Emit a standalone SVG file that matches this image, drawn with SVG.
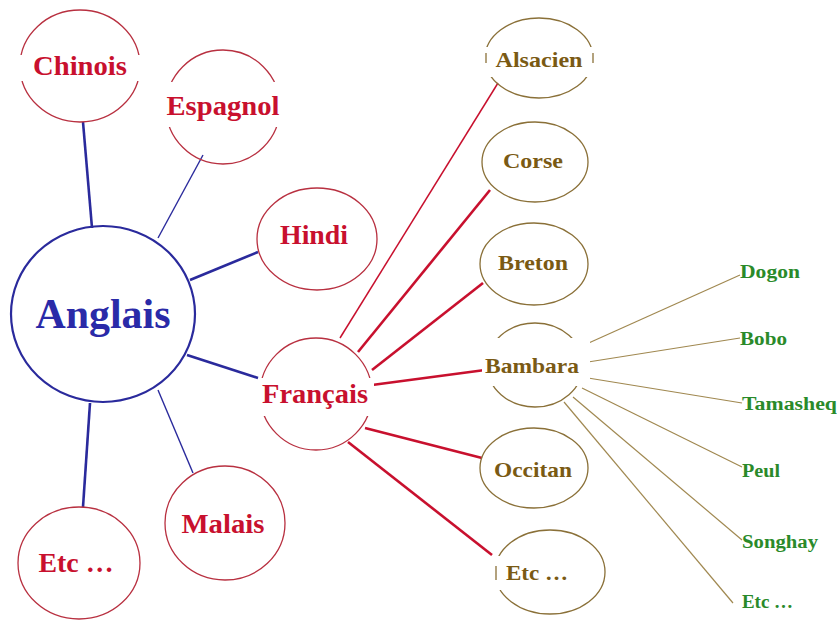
<svg xmlns="http://www.w3.org/2000/svg" width="837" height="621" viewBox="0 0 837 621">
<style>
  .bg{fill:#ffffff}
  .mask{fill:#ffffff;stroke:none}
  .rn{fill:none;stroke:#b83040;stroke-width:1.3}
  .bn{fill:none;stroke:#2a2a9c;stroke-width:2.2}
  .on{fill:none;stroke:#8a7038;stroke-width:1.3}
  .rt{font-family:"Liberation Serif","Times New Roman",serif;font-weight:bold;font-size:28px;fill:#c8102e;text-anchor:middle}
  .bt{font-family:"Liberation Serif","Times New Roman",serif;font-weight:bold;font-size:42px;fill:#2a2aa8;text-anchor:middle}
  .ot{font-family:"Liberation Serif","Times New Roman",serif;font-weight:bold;font-size:22px;fill:#7a5a14;text-anchor:middle}
  .gt{font-family:"Liberation Serif","Times New Roman",serif;font-weight:bold;font-size:18px;fill:#2a8a2a}
  .cb{stroke:#2a2a9c;stroke-width:2.6;fill:none}
  .cbt{stroke:#2a2a9c;stroke-width:1.4;fill:none}
  .cr{stroke:#c8102e;stroke-width:2.6;fill:none}
  .crt{stroke:#c8102e;stroke-width:1.5;fill:none}
  .co{stroke:#a08850;stroke-width:1.2;fill:none}
</style>
<rect class="bg" x="0" y="0" width="837" height="621"/>

<g id="connectors">
  <line class="cb" x1="83" y1="122" x2="92" y2="228"/>
  <line class="cbt" x1="203" y1="155" x2="158" y2="238"/>
  <line class="cb" x1="190" y1="280" x2="258" y2="252"/>
  <line class="cb" x1="187" y1="355" x2="258" y2="378"/>
  <line class="cbt" x1="158" y1="390" x2="193" y2="473"/>
  <line class="cb" x1="90" y1="403" x2="83" y2="507"/>

  <line class="crt" x1="340" y1="338" x2="498" y2="83"/>
  <line class="cr" x1="358" y1="352" x2="490" y2="190"/>
  <line class="cr" x1="372" y1="370" x2="483" y2="283"/>
  <line class="cr" x1="372" y1="385" x2="485" y2="370"/>
  <line class="cr" x1="365" y1="428" x2="482" y2="458"/>
  <line class="cr" x1="348" y1="442" x2="492" y2="555"/>

  <line class="co" x1="582" y1="346" x2="740" y2="275"/>
  <line class="co" x1="588" y1="362" x2="740" y2="338"/>
  <line class="co" x1="588" y1="378" x2="742" y2="403"/>
  <line class="co" x1="582" y1="388" x2="742" y2="467"/>
  <line class="co" x1="573" y1="397" x2="742" y2="540"/>
  <line class="co" x1="564" y1="402" x2="733" y2="603"/>
</g>

<g id="anglais">
  <ellipse class="bn" cx="103" cy="314" rx="92" ry="88"/>
  <text class="bt" x="103" y="328" textLength="135" lengthAdjust="spacingAndGlyphs">Anglais</text>
</g>
<g id="chinois">
  <ellipse class="rn" cx="80" cy="66" rx="60" ry="56"/>
  <rect class="mask" x="18" y="55" width="124" height="26"/>
  <text class="rt" x="80" y="75" textLength="94" lengthAdjust="spacingAndGlyphs">Chinois</text>
</g>
<g id="espagnol">
  <ellipse class="rn" cx="223" cy="107" rx="57" ry="57"/>
  <rect class="mask" x="164" y="82" width="120" height="45"/>
  <text class="rt" x="223" y="115" textLength="113" lengthAdjust="spacingAndGlyphs">Espagnol</text>
</g>
<g id="hindi">
  <ellipse class="rn" cx="317" cy="239" rx="60" ry="51"/>
  <text class="rt" x="314" y="244" textLength="68" lengthAdjust="spacingAndGlyphs">Hindi</text>
</g>
<g id="francais">
  <ellipse class="rn" cx="316" cy="394" rx="56" ry="56"/>
  <rect class="mask" x="258" y="378" width="116" height="38"/>
  <text class="rt" x="315" y="403" textLength="106" lengthAdjust="spacingAndGlyphs">Français</text>
</g>
<g id="malais">
  <ellipse class="rn" cx="225" cy="523" rx="60" ry="57"/>
  <text class="rt" x="223" y="533" textLength="83" lengthAdjust="spacingAndGlyphs">Malais</text>
</g>
<g id="etc-left">
  <ellipse class="rn" cx="79" cy="563" rx="61" ry="56"/>
  <text class="rt" x="76" y="572" textLength="75" lengthAdjust="spacingAndGlyphs">Etc …</text>
</g>

<g id="alsacien">
  <ellipse class="on" cx="539" cy="58" rx="54" ry="40"/>
  <rect class="mask" x="483" y="47" width="112" height="30"/>
  <line class="on" x1="486" y1="53" x2="486" y2="63"/>
  <line class="on" x1="593" y1="53" x2="593" y2="63"/>
  <text class="ot" x="539" y="67" textLength="87" lengthAdjust="spacingAndGlyphs">Alsacien</text>
</g>
<g id="corse">
  <ellipse class="on" cx="535" cy="162" rx="53" ry="40"/>
  <text class="ot" x="533" y="168" textLength="60" lengthAdjust="spacingAndGlyphs">Corse</text>
</g>
<g id="breton">
  <ellipse class="on" cx="534" cy="264" rx="54" ry="41"/>
  <text class="ot" x="533" y="270" textLength="70" lengthAdjust="spacingAndGlyphs">Breton</text>
</g>
<g id="bambara">
  <ellipse class="on" cx="535" cy="365" rx="48" ry="42"/>
  <rect class="mask" x="482" y="338" width="108" height="48"/>
  <text class="ot" x="532" y="373" textLength="94" lengthAdjust="spacingAndGlyphs">Bambara</text>
</g>
<g id="occitan">
  <ellipse class="on" cx="534" cy="468" rx="54" ry="40"/>
  <text class="ot" x="533" y="477" textLength="78" lengthAdjust="spacingAndGlyphs">Occitan</text>
</g>
<g id="etc-right">
  <ellipse class="on" cx="550" cy="572" rx="55" ry="42"/>
  <rect class="mask" x="492" y="556" width="14" height="34"/>
  <line class="on" x1="496" y1="566" x2="496" y2="580"/>
  <text class="ot" x="537" y="580" textLength="62" lengthAdjust="spacingAndGlyphs">Etc …</text>
</g>

<g id="dogon"><text class="gt" x="740" y="278" textLength="60" lengthAdjust="spacingAndGlyphs">Dogon</text></g>
<g id="bobo"><text class="gt" x="740" y="345" textLength="47" lengthAdjust="spacingAndGlyphs">Bobo</text></g>
<g id="tamasheq"><text class="gt" x="742" y="410" textLength="95" lengthAdjust="spacingAndGlyphs">Tamasheq</text></g>
<g id="peul"><text class="gt" x="742" y="477" textLength="38" lengthAdjust="spacingAndGlyphs">Peul</text></g>
<g id="songhay"><text class="gt" x="742" y="548" textLength="76" lengthAdjust="spacingAndGlyphs">Songhay</text></g>
<g id="etc-green"><text class="gt" x="742" y="608" textLength="51" lengthAdjust="spacingAndGlyphs">Etc …</text></g>
</svg>
